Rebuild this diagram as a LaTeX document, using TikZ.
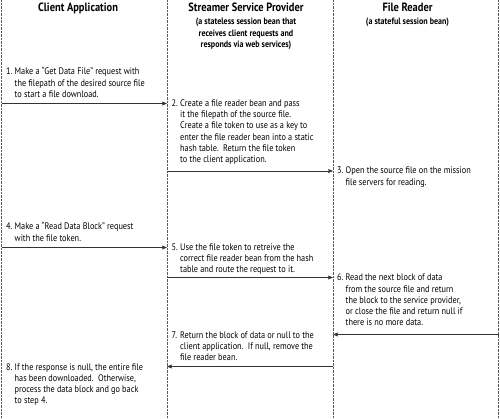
\documentclass[tikz,border=0pt]{standalone}
\usepackage{fontspec}
\setmainfont[FakeStretch=0.87]{PT Sans}
\usetikzlibrary{arrows.meta}

\tikzset{
  lane/.style={black!65, line width=0.5pt, dash pattern=on 0.5pt off 0.9pt},
  msg/.style={black!80, line width=0.6pt, -{Stealth[length=5pt,width=4pt,inset=1pt]}},
  lanehead/.style={anchor=base, inner sep=0pt, font=\fontsize{12}{12}\selectfont\bfseries},
  lanenote/.style={anchor=base, inner sep=0pt, align=center, font=\fontsize{9.2}{11.5}\selectfont\bfseries},
  steptext/.style={anchor=base west, inner sep=0pt, align=left, font=\fontsize{9.5}{11.2}\selectfont},
}
\newcommand\stepno[1]{\makebox[8.5pt][l]{#1}}
\newcommand\stepin{\hspace*{8.5pt}}

\begin{document}
\begin{tikzpicture}[x=1pt, y=-1pt]
\useasboundingbox (0,0) rectangle (500,419);
% Swim lanes
\draw[lane] (1.5,0) -- (1.5,419);
\draw[lane] (167,0) -- (167,419);
\draw[lane] (333,0) -- (333,419);
\draw[lane] (498.5,0) -- (498.5,419);
% Lane headings (multi-line nodes sit on their last line)
\node[lanehead] (clientHead) at (78,11.5) {Client Application};
\node[lanehead] (providerHead) at (246,11.5) {Streamer Service Provider};
\node[lanenote] (providerNote) at (246,48) {(a stateless session bean that\\receives client requests and\\responds via web services)};
\node[lanehead] (readerHead) at (407.5,11.5) {File Reader};
\node[lanenote] (readerNote) at (407.5,25) {(a stateful session bean)};
% Steps
\node[steptext] (stepA) at (6,97.4) {\stepno{1.}Make a “Get Data File” request with\\\stepin the filepath of the desired source file\\\stepin to start a file download.};
\node[steptext] (stepB) at (171.5,162.5) {\stepno{2.}Create a file reader bean and pass\\\stepin it the filepath of the source file.\\\stepin Create a file token to use as a key to\\\stepin enter the file reader bean into a static\\\stepin hash table.\ \ Return the file token\\\stepin to the client application.};
\node[steptext] (stepC) at (337,185.2) {\stepno{3.}Open the source file on the mission\\\stepin file servers for reading.};
\node[steptext] (stepD) at (6,241.2) {\stepno{4.}Make a “Read Data Block” request\\\stepin with the file token.};
\node[steptext] (stepE) at (171.5,272.9) {\stepno{5.}Use the file token to retreive the\\\stepin correct file reader bean from the hash\\\stepin table and route the request to it.};
\node[steptext] (stepF) at (337,325.8) {\stepno{6.}Read the next block of data\\\stepin from the source file and return\\\stepin the block to the service provider,\\\stepin or close the file and return null if\\\stepin there is no more data.};
\node[steptext] (stepG) at (171.5,360.4) {\stepno{7.}Return the block of data or null to the\\\stepin client application.\ \ If null, remove the\\\stepin file reader bean.};
\node[steptext] (stepH) at (6,403.6) {\stepno{8.}If the response is null, the entire file\\\stepin has been downloaded.\ \ Otherwise,\\\stepin process the data block and go back\\\stepin to step 4.};
% Message ends on the lanes
\coordinate (clientA) at (1.5,103.5);
\coordinate (providerA) at (167,103.5);
\coordinate (providerB) at (167,171);
\coordinate (readerB) at (333,171);
\coordinate (clientD) at (1.5,247.5);
\coordinate (providerD) at (167,247.5);
\coordinate (providerE) at (167,277.5);
\coordinate (readerE) at (333,277.5);
\coordinate (edgeF) at (498.5,334.5);
\coordinate (readerF) at (333,334.5);
\coordinate (readerG) at (333,366.5);
\coordinate (providerG) at (167,366.5);
% Messages
\draw[msg] (clientA) -- (providerA);
\draw[msg] (providerB) -- (readerB);
\draw[msg] (clientD) -- (providerD);
\draw[msg] (providerE) -- (readerE);
\draw[msg] (edgeF) -- (readerF);
\draw[msg] (readerG) -- (providerG);
\end{tikzpicture}
\end{document}
